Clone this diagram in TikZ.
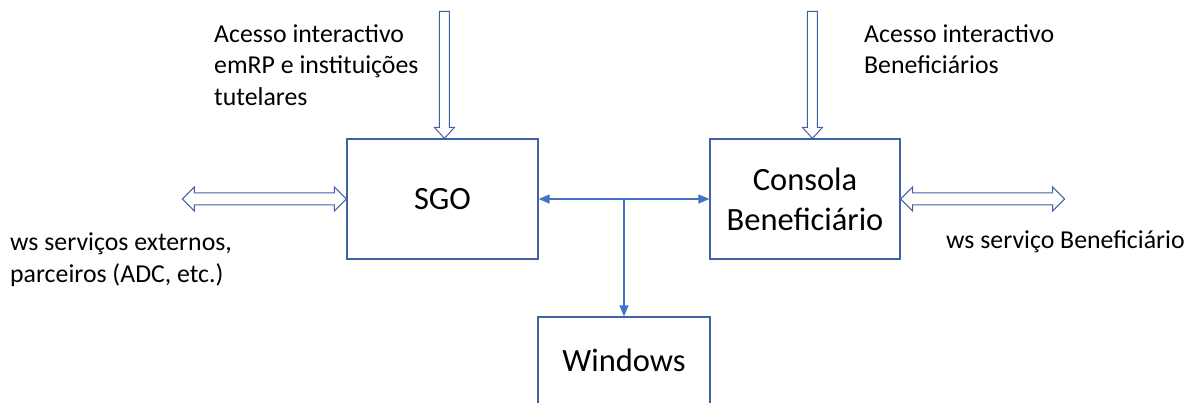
\documentclass[tikz,border=0pt]{standalone}
\usepackage{fontspec}
\setmainfont{Carlito}
\usetikzlibrary{arrows.meta,calc}
\definecolor{boxblue}{HTML}{4472C4}
\definecolor{edgeblue}{HTML}{3F62A6}
\newcommand{\hdown}[2]{% tip, length
  \begin{scope}[shift={(#1)}]
    \draw[blockarrow] (-5,-#2) -- (5,-#2) -- (5,-11) -- (10,-11) -- (0,0) -- (-10,-11) -- (-5,-11) -- cycle;
  \end{scope}}
\newcommand{\hboth}[2]{% left tip, length
  \begin{scope}[shift={(#1)}]
    \draw[blockarrow] (0,0) -- (12,-12) -- (12,-6) -- (#2-12,-6) -- (#2-12,-12) -- (#2,0) -- (#2-12,12) -- (#2-12,6) -- (12,6) -- (12,12) -- cycle;
  \end{scope}}
\begin{document}
\begin{tikzpicture}[x=1pt,y=-1pt,
  box/.style={draw=edgeblue,line width=1.2pt,rectangle,inner sep=0pt,align=center,font=\fontsize{32.5}{40}\selectfont},
  lbl/.style={anchor=north west,inner sep=0pt,align=left,font=\fontsize{25.8}{31.5}\selectfont},
  blockarrow/.style={draw=edgeblue,line width=1pt,fill=white,line join=miter},
  thin/.style={draw=boxblue,line width=1.4pt,-{Triangle[length=11pt,width=9pt]}}]
\useasboundingbox (0,0) rectangle (1191,403);
\clip (0,0) rectangle (1191,403);
\node[box,minimum width=191pt,minimum height=120pt] (sgo) at (442.5,199) {SGO};
\node[box,minimum width=190pt,minimum height=120pt] (cons) at (805,199) {Consola\\Beneficiário};
\node[box,minimum width=172pt,minimum height=87.5pt] (win) at (624,360.7) {Windows};
\coordinate (j) at (624,199);
\draw[thin,{Triangle[length=11pt,width=9pt]}-{Triangle[length=11pt,width=9pt]}] (sgo.east) -- (cons.west);
\draw[thin] (j) -- (win.north);
\coordinate (tipA) at ($(sgo.north west)+(98,0)$);
\coordinate (tipB) at ($(cons.north west)+(103,0)$);
\hdown{tipA}{127}
\hdown{tipB}{127}
\coordinate (lt) at ($(sgo.west)+(-164,0)$);
\hboth{lt}{164}
\hboth{cons.east}{164}
\node[lbl] (t1) at (214,24) {Acesso interactivo\\emRP e instituições\\tutelares};
\node[lbl] (t2) at (864,24) {Acesso interactivo\\Beneficiários};
\node[lbl] (t3) at (10,233) {ws serviços externos,\\parceiros (ADC, etc.)};
\node[lbl] (t4) at (946,230) {ws serviço Beneficiário};
\end{tikzpicture}
\end{document}
